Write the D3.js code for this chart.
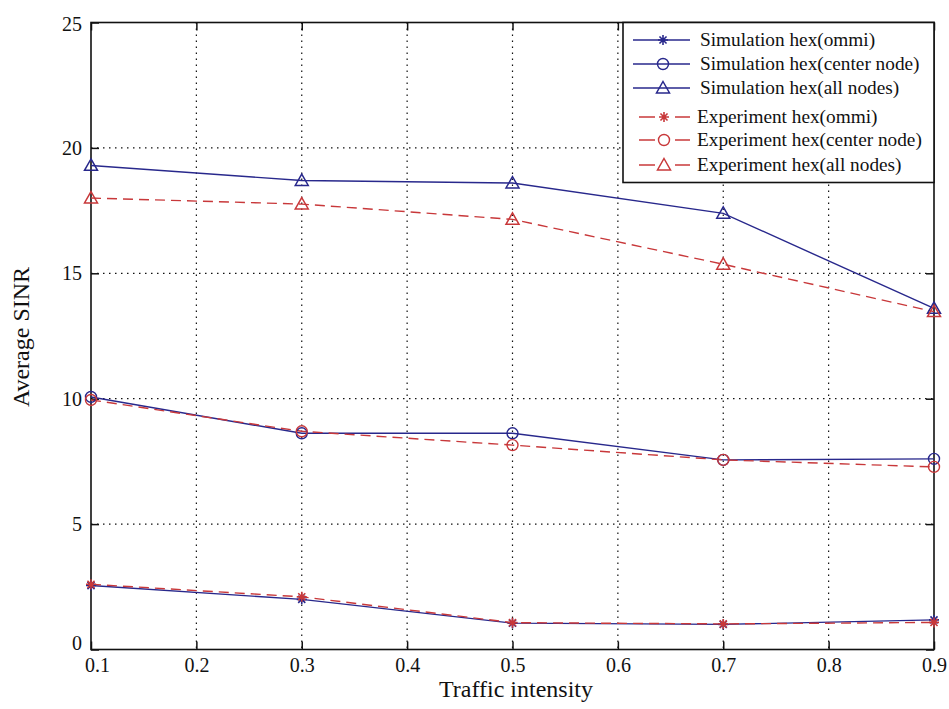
<!DOCTYPE html>
<html>
<head>
<meta charset="utf-8">
<script src="https://cdn.jsdelivr.net/npm/d3@7"></script>
<style>
  html, body { margin: 0; padding: 0; background: #fff; }
  svg { display: block; }
  svg text { font-family: "Liberation Serif", "DejaVu Serif", serif; }
</style>
</head>
<body>
<svg id="chart" width="949" height="709"></svg>
<script>
// Traffic intensity values on the x axis
const traffic = [0.1, 0.3, 0.5, 0.7, 0.9];

// Average SINR, simulation runs
const simOmni   = [2.55, 2.0, 1.05, 1.0, 1.18];
const simCenter = [10.07, 8.62, 8.62, 7.56, 7.6];
const simAll    = [19.3, 18.7, 18.6, 17.39, 13.6];

// Average SINR, experiments
const expOmni   = [2.6, 2.1, 1.07, 1.02, 1.08];
const expCenter = [9.95, 8.7, 8.15, 7.56, 7.28];
const expAll    = [18.0, 17.76, 17.15, 15.36, 13.47];

const xTicks = [0.1, 0.2, 0.3, 0.4, 0.5, 0.6, 0.7, 0.8, 0.9];
const yTicks = [0, 5, 10, 15, 20, 25];

const seriesNames = [
  "Simulation hex(ommi)", "Simulation hex(center node)", "Simulation hex(all nodes)",
  "Experiment hex(ommi)", "Experiment hex(center node)", "Experiment hex(all nodes)"
];

const BLUE = "#28288c";
const RED = "#c8383a";

const series = [
  { name: seriesNames[0], values: simOmni,   color: BLUE, dash: null,   marker: "star" },
  { name: seriesNames[1], values: simCenter, color: BLUE, dash: null,   marker: "circle" },
  { name: seriesNames[2], values: simAll,    color: BLUE, dash: null,   marker: "triangle" },
  { name: seriesNames[3], values: expOmni,   color: RED,  dash: "10,6", marker: "star" },
  { name: seriesNames[4], values: expCenter, color: RED,  dash: "10,6", marker: "circle" },
  { name: seriesNames[5], values: expAll,    color: RED,  dash: "10,6", marker: "triangle" }
];

const svg = d3.select("#chart");
const L = 91, R = 934, T = 22.5, B = 649.5;
const FONT = "'Liberation Serif', 'DejaVu Serif', serif";

const x = d3.scaleLinear().domain([0.1, 0.9]).range([L, R]);
const y = d3.scaleLinear().domain([0, 25]).range([B, T]);

// dotted grid
const grid = svg.append("g");
grid.selectAll("line.gx").data(xTicks.slice(1, -1)).join("line")
  .attr("x1", d => x(d)).attr("x2", d => x(d)).attr("y1", T).attr("y2", B)
  .attr("stroke", "#111").attr("stroke-width", 1.2).attr("stroke-dasharray", "1.5,4.5");
grid.selectAll("line.gy").data(yTicks.slice(1, -1)).join("line")
  .attr("x1", L).attr("x2", R).attr("y1", d => y(d)).attr("y2", d => y(d))
  .attr("stroke", "#111").attr("stroke-width", 1.2).attr("stroke-dasharray", "1.5,4.5");

// axes with inward ticks
const tickLen = 8;
const xAxis = d3.axisBottom(x).tickValues(xTicks).tickSize(-tickLen).tickPadding(8)
  .tickFormat(d3.format(".1f"));
const yAxis = d3.axisLeft(y).tickValues(yTicks).tickSize(-tickLen).tickPadding(9)
  .tickFormat(d3.format("d"));

const gx = svg.append("g").attr("transform", `translate(0,${B})`).call(xAxis);
const gy = svg.append("g").attr("transform", `translate(${L},0)`).call(yAxis);
const gxTop = svg.append("g").attr("transform", `translate(0,${T})`)
  .call(d3.axisTop(x).tickValues(xTicks).tickSize(-tickLen).tickFormat(""));
const gyRight = svg.append("g").attr("transform", `translate(${R},0)`)
  .call(d3.axisRight(y).tickValues(yTicks).tickSize(-tickLen).tickFormat(""));

[gx, gy, gxTop, gyRight].forEach(g => {
  g.attr("font-family", null).attr("font-size", null);
  g.select(".domain").remove();
  g.selectAll(".tick line").attr("stroke", "#111").attr("stroke-width", 1.5);
  g.selectAll(".tick text").attr("fill", "#111")
    .style("font-size", "20px").style("font-family", FONT);
});
// corner labels nudged off the axis corner
gx.selectAll(".tick text").filter(d => d === 0.1).attr("dx", 6);
gy.selectAll(".tick text").filter(d => d === 0).attr("dy", "-0.0em");
gy.selectAll(".tick text").filter(d => d === 25).attr("dy", "0.42em");

// frame
svg.append("rect").attr("x", L).attr("y", T).attr("width", R - L).attr("height", B - T)
  .attr("fill", "none").attr("stroke", "#111").attr("stroke-width", 1.6);

// axis titles
svg.append("text").attr("x", 516).attr("y", 697).attr("text-anchor", "middle")
  .style("font-size", "24px").style("font-family", FONT).attr("fill", "#111").text("Traffic intensity");
svg.append("text").attr("transform", "translate(29,337) rotate(-90)")
  .attr("text-anchor", "middle").style("font-size", "24px").style("font-family", FONT)
  .attr("fill", "#111").text("Average SINR");

// marker drawing
function drawMarker(g, type, color, cx, cy) {
  if (type === "circle") {
    g.append("circle").attr("cx", cx).attr("cy", cy).attr("r", 5.5)
      .attr("fill", "none").attr("stroke", color).attr("stroke-width", 1.4);
  } else if (type === "triangle") {
    const s = 6.5;
    g.append("path")
      .attr("d", `M${cx},${cy - s} L${cx + s},${cy + s * 0.75} L${cx - s},${cy + s * 0.75} Z`)
      .attr("fill", "none").attr("stroke", color).attr("stroke-width", 1.5);
  } else {
    const s = 5;
    const p = [];
    for (let k = 0; k < 4; k++) {
      const a = k * Math.PI / 4;
      p.push(`M${cx - s * Math.cos(a)},${cy - s * Math.sin(a)} L${cx + s * Math.cos(a)},${cy + s * Math.sin(a)}`);
    }
    g.append("path").attr("d", p.join(" ")).attr("stroke", color).attr("stroke-width", 1.6);
  }
}

const line = d3.line().x((d, i) => x(traffic[i])).y(d => y(d));
const plot = svg.append("g");
series.forEach(s => {
  plot.append("path").datum(s.values).attr("d", line)
    .attr("fill", "none").attr("stroke", s.color).attr("stroke-width", 1.4)
    .attr("stroke-dasharray", s.dash);
});
series.forEach(s => {
  s.values.forEach((v, i) => drawMarker(plot, s.marker, s.color, x(traffic[i]), y(v)));
});

// legend
const lg = svg.append("g");
lg.append("rect").attr("x", 623).attr("y", T).attr("width", R - 623).attr("height", 160)
  .attr("fill", "#fff").attr("stroke", "#111").attr("stroke-width", 1.6);
const legendY = [40, 64, 88, 117, 140, 165];
series.forEach((s, i) => {
  const ly = legendY[i];
  const isExp = s.dash !== null;
  if (isExp) {
    lg.append("line").attr("x1", 639).attr("x2", 655).attr("y1", ly).attr("y2", ly)
      .attr("stroke", s.color).attr("stroke-width", 1.5);
    lg.append("line").attr("x1", 675).attr("x2", 690).attr("y1", ly).attr("y2", ly)
      .attr("stroke", s.color).attr("stroke-width", 1.5);
  } else {
    lg.append("line").attr("x1", 633).attr("x2", 690).attr("y1", ly).attr("y2", ly)
      .attr("stroke", s.color).attr("stroke-width", 1.5);
  }
  drawMarker(lg, s.marker, s.color, isExp ? 664 : 663, ly);
  lg.append("text").attr("x", isExp ? 697 : 700).attr("y", ly + 6)
    .style("font-size", "19.3px").style("font-family", FONT).attr("fill", "#111").text(s.name);
});
</script>
</body>
</html>
